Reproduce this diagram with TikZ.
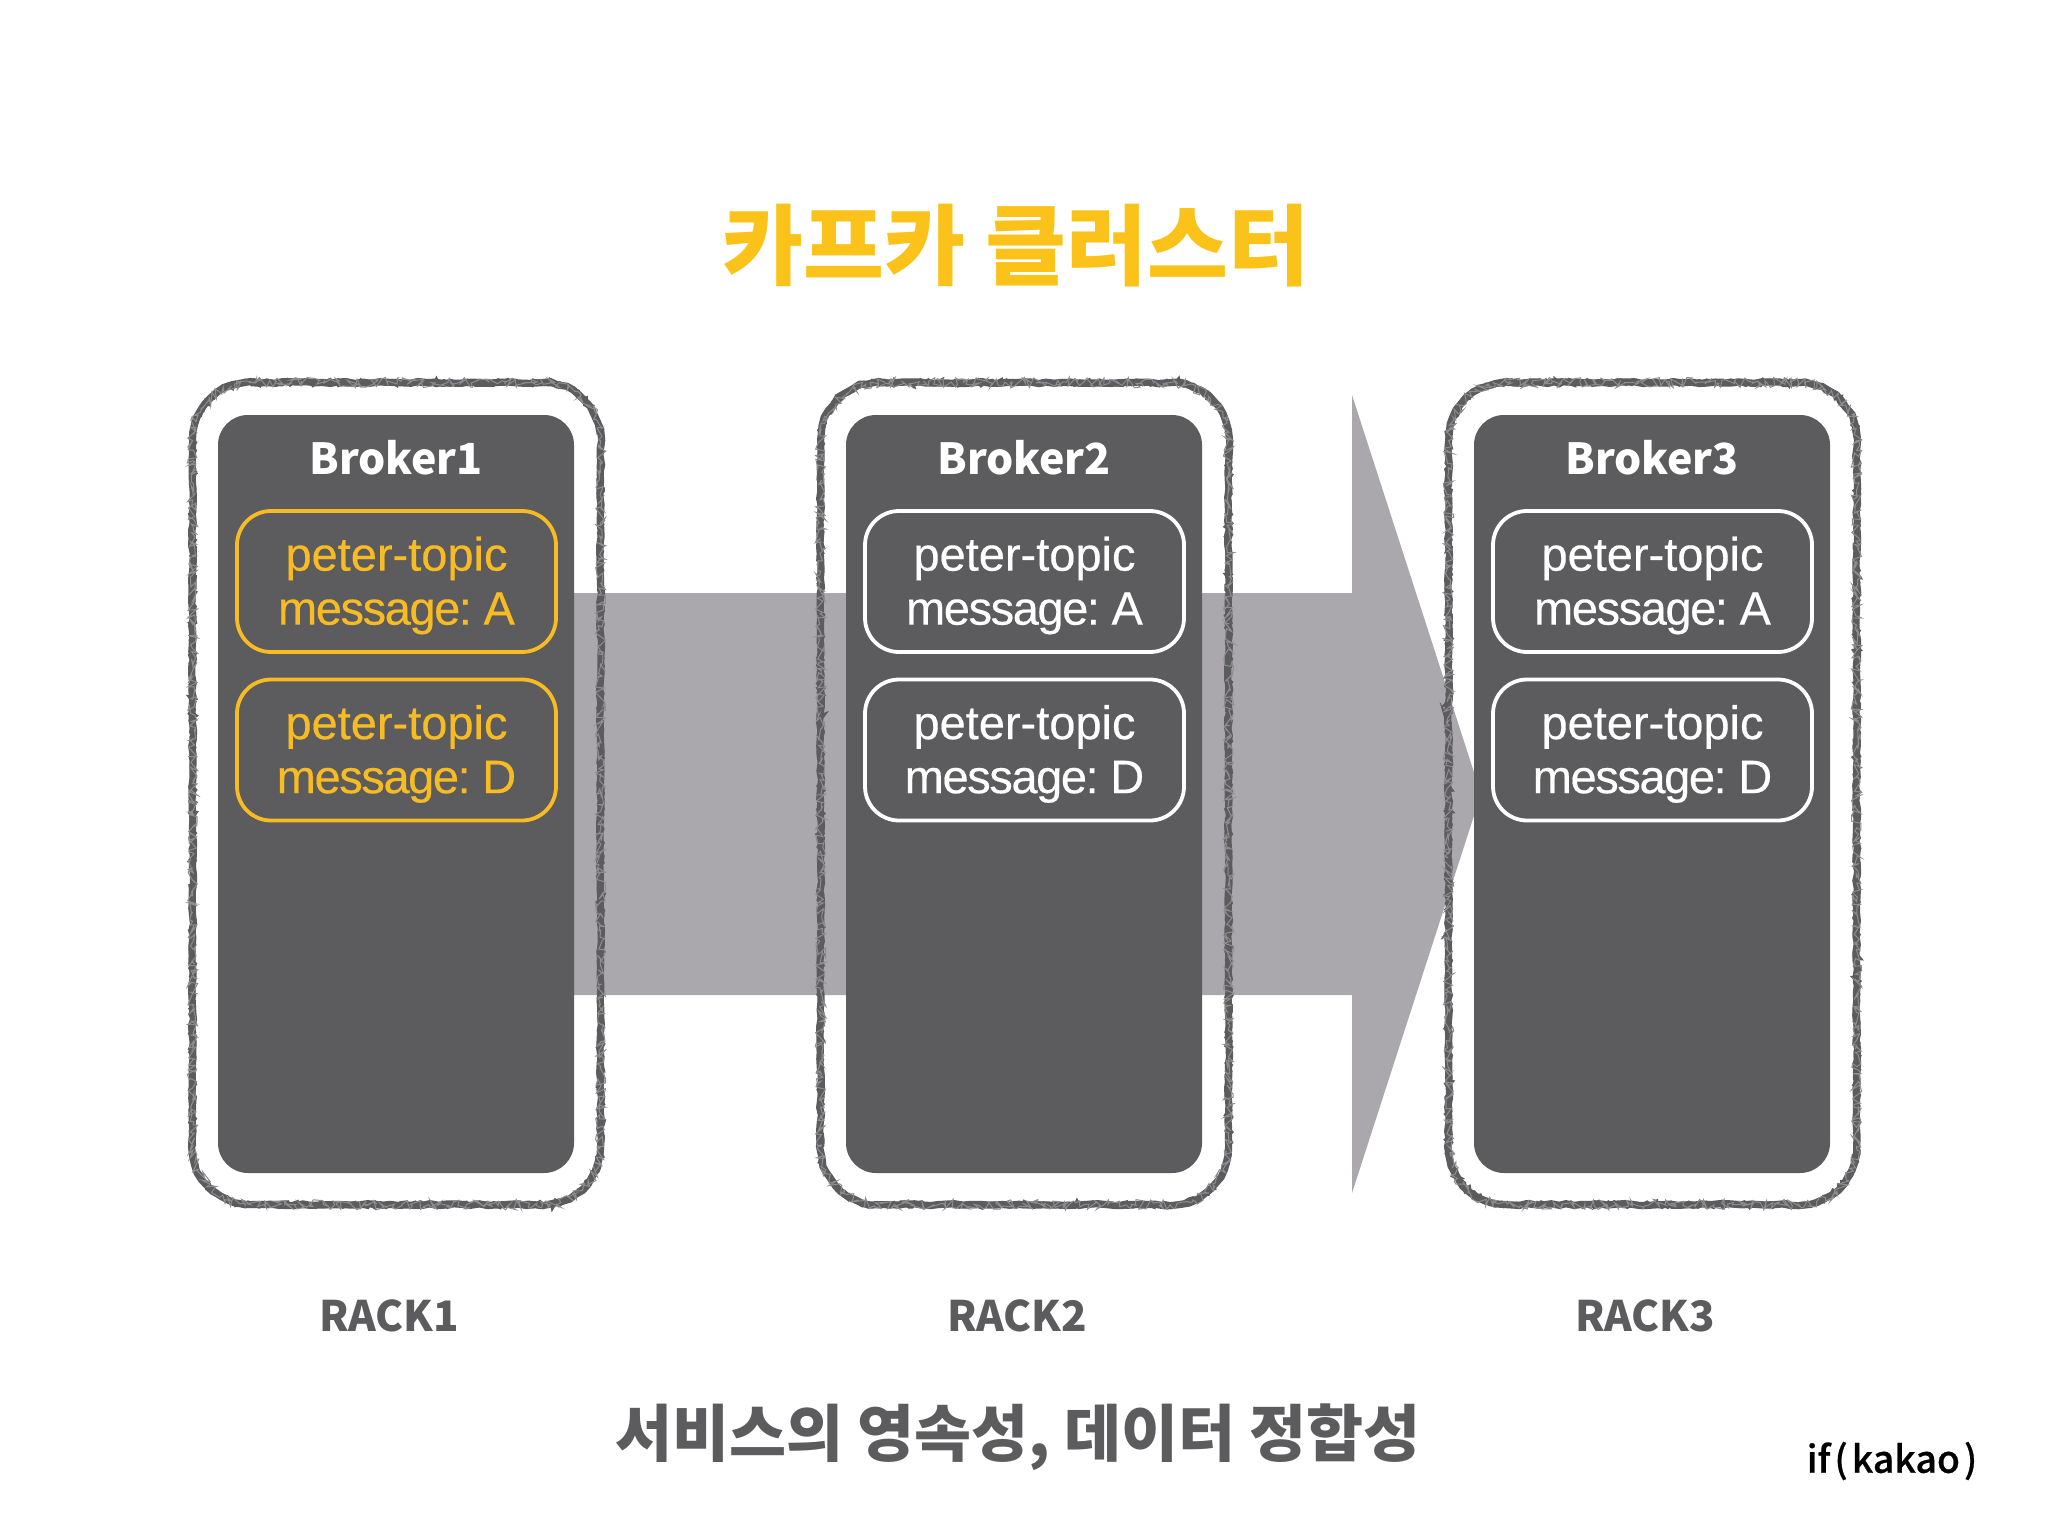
\documentclass[tikz,border=0pt]{standalone}
\usepackage{fontspec}
\setmainfont{Liberation Sans}
\newfontfamily\krfont{Noto Sans CJK KR}
\newfontfamily\logofont[RawFeature={embolden=0.6}]{Noto Sans CJK KR Medium}
\newfontfamily\topicfont[RawFeature={embolden=0.35}]{Liberation Sans}
\newfontfamily\msgfont[RawFeature={embolden=0.35},LetterSpace=-3]{Liberation Sans}
\usetikzlibrary{decorations.pathmorphing}
\definecolor{dark}{HTML}{5C5B5D}
\definecolor{arrowgrey}{HTML}{AAA8AC}
\definecolor{gold}{HTML}{F7BB23}
\definecolor{titlegold}{HTML}{FBC21A}
\frenchspacing
\tikzset{
  x=0.5pt,y=-0.5pt,
  rackframe/.style={minimum width=204pt,minimum height=411pt,inner sep=0pt},
  sketchA/.style={draw=dark,line width=2.4pt,decoration={random steps,segment length=1.6pt,amplitude=1pt},decorate},
  sketchB/.style={draw=dark,line width=3.6pt,decoration={random steps,segment length=4pt,amplitude=0.5pt},decorate},
  sketchC/.style={draw=dark!70,line width=0.5pt,decoration={random steps,segment length=1.2pt,amplitude=2.6pt},decorate},
  brokerbox/.style={fill=dark,minimum width=178pt,minimum height=379pt,rounded corners=15pt,inner sep=0pt},
  brokertitle/.style={text=white,font=\krfont\bfseries\fontsize{21.4}{26}\selectfont,inner sep=0pt},
  topicbox/.style={draw=#1,text=#1,line width=1.9pt,minimum width=159.5pt,minimum height=70.5pt,rounded corners=17pt,
    inner sep=0pt,align=center,font=\topicfont\fontsize{23.5}{27}\selectfont},
  racklabel/.style={text=dark,font=\krfont\bfseries\fontsize{21}{26}\selectfont,inner sep=0pt},
  maintitle/.style={text=titlegold,font=\krfont\bfseries\fontsize{44}{52}\selectfont,inner sep=0pt},
  subtitle/.style={text=dark,font=\krfont\bfseries\fontsize{31}{36}\selectfont,inner sep=0pt},
  brand/.style={text=black,font=\logofont\fontsize{18.7}{24}\selectfont,inner sep=0pt},
}
\newcommand{\sketchpath}[2]{%
  \path[#1] (#2.north west) ++(58,0) -- ++(292,0)
    .. controls +(32,0) and +(0,-32) .. ++(58,58) -- ++(0,706)
    .. controls +(0,32) and +(32,0) .. ++(-58,58) -- ++(-292,0)
    .. controls +(-32,0) and +(0,32) .. ++(-58,-58) -- ++(0,-706)
    .. controls +(0,-32) and +(-32,0) .. ++(58,-58) -- ++(6,0);}
\newcommand{\downstrut}{\rule{0pt}{21pt}}
\begin{document}
\begin{tikzpicture}
\pgfmathsetseed{42}
\useasboundingbox[fill=white] (0,0) rectangle (2048,1536);
\node[maintitle] (title) at (1016,246) {카프카 클러스터};
\fill[arrowgrey] (500,593) -- (1352,593) -- (1352,395) -- (1481,794) -- (1352,1193) -- (1352,995) -- (500,995) -- cycle;
\foreach \i/\dx/\c in {1/0/gold,2/628/white,3/1256/white}{
  \node[rackframe] (rack\i) at ({397+\dx},794) {};
  \sketchpath{sketchB}{rack\i}
  \sketchpath{sketchA}{rack\i}
  \sketchpath{sketchC}{rack\i}
  \node[brokerbox] (broker\i) at ({396+\dx},794) {};
  \node[brokertitle] (name\i) at ({396+\dx},458) {Broker\i};
  \node[topicbox=\c] (topicA\i) at ({396.5+\dx},581.5) {\downstrut peter-topic\\{\msgfont message: A}};
  \node[topicbox=\c] (topicD\i) at ({396.5+\dx},750) {\downstrut peter-topic\\{\msgfont message: D}};
  \node[racklabel] (label\i) at ({389+\dx},1316) {RACK\i};
}
\node[subtitle] (sub) at (1018,1437) {서비스의 영속성, 데이터 정합성};
\node[brand] (logo) at (1892,1461) {if\kern2pt(\kern2pt kakao\kern2pt)};
\end{tikzpicture}
\end{document}
